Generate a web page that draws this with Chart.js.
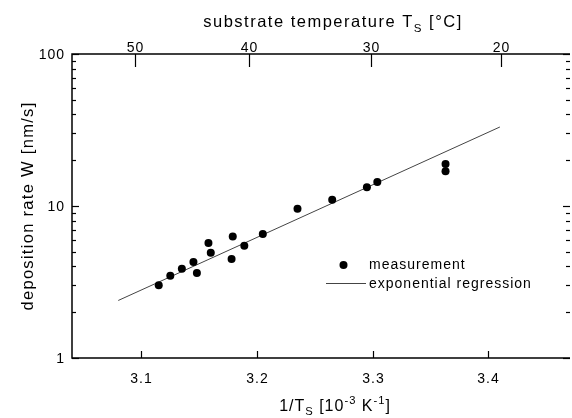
<!DOCTYPE html>
<html>
<head>
<meta charset="utf-8">
<script src="https://cdn.jsdelivr.net/npm/chart.js@4.4.0/dist/chart.umd.min.js"></script>
<style>
  html, body { margin: 0; padding: 0; background: #fff; }
  #wrap { width: 572px; height: 418px; position: relative; }
</style>
</head>
<body>
<div id="wrap"><canvas id="depChart"></canvas></div>
<script>
// Data (1/T in 10^-3 K^-1, W in nm/s)
const invT  = [3.115, 3.125, 3.135, 3.145, 3.148, 3.158, 3.160, 3.178, 3.179, 3.189, 3.205, 3.235, 3.265, 3.295, 3.304, 3.363, 3.363];
const rateW = [3.01, 3.48, 3.87, 4.28, 3.62, 5.71, 4.93, 4.48, 6.31, 5.48, 6.54, 9.60, 11.0, 13.3, 14.4, 18.9, 16.9];

// exponential regression, end points
const fitInvT = [3.08, 3.41];
const fitW    = [2.39, 33.1];

// axis ticks
const xTicks = [3.1, 3.2, 3.3, 3.4];
const yTicks = [1, 10, 100];
const topTicksC = [50, 40, 30, 20];

const X_MIN = 3.04, X_MAX = 3.4689;
const FONT = "'Liberation Sans', Arial, sans-serif";

// text helper: segments with optional sub / sup
function richWidth(ctx, segs, size) {
  let w = 0;
  segs.forEach(s => {
    ctx.font = (s.sub || s.sup ? size * 0.7 : size) + "px " + FONT;
    w += ctx.measureText(s.t).width;
  });
  return w;
}
function drawRich(ctx, segs, x, y, size, align, spacing) {
  ctx.save();
  ctx.letterSpacing = spacing + "px";
  const w = richWidth(ctx, segs, size);
  let cx = align === "center" ? x - w / 2 : x;
  ctx.textAlign = "left";
  ctx.textBaseline = "alphabetic";
  segs.forEach(s => {
    const sz = s.sub || s.sup ? size * 0.7 : size;
    ctx.font = sz + "px " + FONT;
    const dy = s.sub ? size * 0.28 : (s.sup ? -size * 0.42 : 0);
    ctx.fillText(s.t, cx, y + dy);
    cx += ctx.measureText(s.t).width;
  });
  ctx.restore();
}

const decor = {
  id: "decor",
  afterDraw(chart) {
    const ctx = chart.ctx;
    const xs = chart.scales.x, ys = chart.scales.y;
    const { left, right, top, bottom } = chart.chartArea;
    ctx.save();
    ctx.strokeStyle = "#000";
    ctx.fillStyle = "#000";

    // frame (right edge falls off the picture)
    ctx.lineWidth = 1.5;
    ctx.beginPath();
    ctx.moveTo(right + 2, top); ctx.lineTo(left, top);
    ctx.lineTo(left, bottom); ctx.lineTo(right + 2, bottom);
    ctx.stroke();

    ctx.lineWidth = 1.2;
    ctx.letterSpacing = "1px";
    ctx.font = "14px " + FONT;

    // bottom ticks
    ctx.textAlign = "center"; ctx.textBaseline = "alphabetic";
    xTicks.forEach(v => {
      const px = Math.round(xs.getPixelForValue(v)) + 0.5;
      ctx.beginPath(); ctx.moveTo(px, bottom); ctx.lineTo(px, bottom - 7); ctx.stroke();
      ctx.fillText(v.toFixed(1), px, 383);
    });

    // top ticks (Celsius on the 1/T scale)
    topTicksC.forEach(c => {
      const px = Math.round(xs.getPixelForValue(1000 / (c + 273.15))) + 0.5;
      ctx.beginPath(); ctx.moveTo(px, top); ctx.lineTo(px, top + 13); ctx.stroke();
      ctx.fillText(String(c), px, 52);
    });

    // left / right ticks
    ctx.textAlign = "right"; ctx.textBaseline = "middle";
    yTicks.forEach(v => {
      const py = Math.round(ys.getPixelForValue(v)) + 0.5;
      ctx.beginPath(); ctx.moveTo(left, py); ctx.lineTo(left + 7, py); ctx.stroke();
      ctx.beginPath(); ctx.moveTo(right + 2, py); ctx.lineTo(right - 5, py); ctx.stroke();
      ctx.fillText(String(v), left - 7, py + 1);
    });
    [1, 10].forEach(d => {
      for (let m = 2; m <= 9; m++) {
        const py = Math.round(ys.getPixelForValue(d * m)) + 0.5;
        ctx.beginPath(); ctx.moveTo(left, py); ctx.lineTo(left + 4, py); ctx.stroke();
        ctx.beginPath(); ctx.moveTo(right + 2, py); ctx.lineTo(right - 2, py); ctx.stroke();
      }
    });

    // axis titles
    drawRich(ctx, [{ t: "substrate temperature T" }, { t: "S", sub: true }, { t: " [°C]" }], 333, 27, 16.5, "center", 1.5);
    drawRich(ctx, [{ t: "1/T" }, { t: "S", sub: true }, { t: " [10" }, { t: "-3", sup: true }, { t: " K" }, { t: "-1", sup: true }, { t: "]" }], 335, 411, 16, "center", 1);
    ctx.save();
    ctx.translate(33, (top + bottom) / 2);
    ctx.rotate(-Math.PI / 2);
    drawRich(ctx, [{ t: "deposition rate W [nm/s]" }], 0, 0, 16.5, "center", 1.3);
    ctx.restore();

    // legend
    const ds0 = chart.data.datasets[0], ds1 = chart.data.datasets[1];
    ctx.fillStyle = ds0.backgroundColor;
    ctx.beginPath(); ctx.arc(343.5, 265, ds0.pointRadius, 0, Math.PI * 2); ctx.fill();
    ctx.strokeStyle = ds1.borderColor; ctx.lineWidth = ds1.borderWidth;
    ctx.beginPath(); ctx.moveTo(326, 283.5); ctx.lineTo(366, 283.5); ctx.stroke();
    ctx.fillStyle = "#000";
    ctx.textAlign = "left"; ctx.textBaseline = "alphabetic";
    ctx.font = "14px " + FONT;
    ctx.fillText(ds0.label, 369, 269);
    ctx.fillText(ds1.label, 369, 288);
    ctx.restore();
  }
};

new Chart(document.getElementById("depChart"), {
  type: "scatter",
  data: {
    datasets: [
      {
        label: "measurement",
        data: invT.map((x, i) => ({ x: x, y: rateW[i] })),
        backgroundColor: "#000",
        borderColor: "#000",
        pointRadius: 4,
        pointBorderWidth: 0,
        showLine: false
      },
      {
        label: "exponential regression",
        data: fitInvT.map((x, i) => ({ x: x, y: fitW[i] })),
        borderColor: "#444",
        borderWidth: 1,
        pointRadius: 0,
        showLine: true,
        fill: false
      }
    ]
  },
  options: {
    responsive: true,
    maintainAspectRatio: false,
    animation: false,
    layout: { padding: { top: 54, left: 0, right: 0, bottom: 0 } },
    plugins: { legend: { display: false }, tooltip: { enabled: false } },
    scales: {
      x: {
        type: "linear", position: "bottom", min: X_MIN, max: X_MAX,
        grid: { display: false }, border: { display: false },
        ticks: { display: false },
        afterFit: s => { s.height = 60; }
      },
      y: {
        type: "logarithmic", position: "left", min: 1, max: 100,
        grid: { display: false }, border: { display: false },
        ticks: { display: false },
        afterFit: s => { s.width = 72; }
      }
    }
  },
  plugins: [decor]
});
</script>
</body>
</html>
